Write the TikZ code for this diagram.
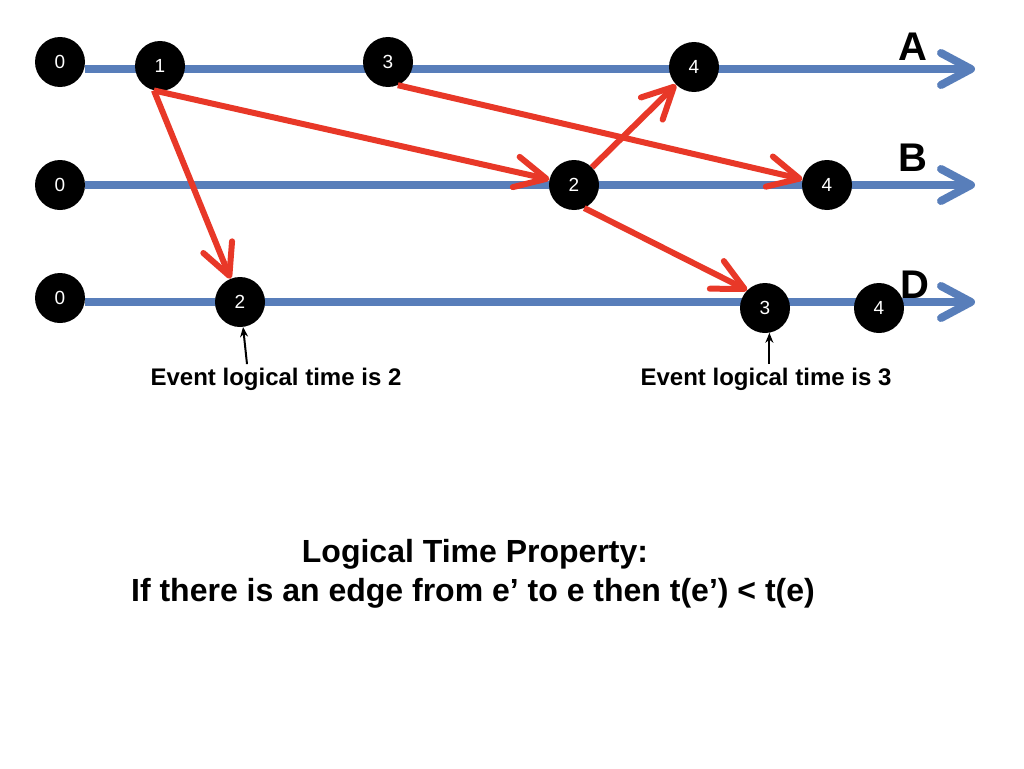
\documentclass[tikz,border=0pt]{standalone}
\usepackage{fontspec}
\setmainfont{Liberation Sans}
\usetikzlibrary{arrows.meta,backgrounds}

\definecolor{lineblue}{RGB}{88,126,186}
\definecolor{msgred}{RGB}{232,56,40}

\tikzset{
    event/.style={circle, fill=black, text=white, minimum size=50pt, inner sep=0pt,
        font=\fontsize{19}{19}\selectfont},
    proc/.style={font=\fontsize{40}{40}\selectfont\bfseries},
    timeline/.style={lineblue, line width=8pt, -{Straight Barb[length=30pt, width=32pt, round]}},
    msg/.style={msgred, line width=6pt, -{Straight Barb[length=31pt, width=31pt, round]}},
    note/.style={black, line width=2pt, -{Stealth[length=10pt, width=8pt]}},
    remark/.style={anchor=base, font=\fontsize{24}{24}\selectfont\bfseries},
    prop/.style={anchor=base, font=\fontsize{32}{32}\selectfont\bfseries}
}

\begin{document}
\begin{tikzpicture}[x=1pt, y=-1pt]
        \useasboundingbox (0,0) rectangle (1024,768);

        % Coordinates
        \coordinate (endA) at (975,69);
        \coordinate (endB) at (975,185);
        \coordinate (endD) at (975,302);

        % Events
        \node[event] (a0) at (60,62) {0};
        \node[event] (a1) at (160,66) {1};
        \node[event] (a3) at (388,62) {3};
        \node[event] (a4) at (694,67) {4};
        \node[event] (b0) at (60,185) {0};
        \node[event] (b2) at (574,185) {2};
        \node[event] (b4) at (827,185) {4};
        \node[event] (d0) at (60,298) {0};
        \node[event] (d2) at (240,302) {2};
        \node[event] (d3) at (765,308) {3};
        \node[event] (d4) at (879,308) {4};

        % Labels
        \node[proc] (labA) at (913,47) {A};
        \node[proc] (labB) at (913,158) {B};
        \node[proc] (labD) at (915,285) {D};

        % Time lines
        \begin{scope}[on background layer]
            \draw[timeline] (a0.east |- endA) -- (endA);
            \draw[timeline] (b0.east |- endB) -- (endB);
            \draw[timeline] (d0.east |- endD) -- (endD);
        \end{scope}

        % Messages
        \draw[msg] (a1.256) -- (d2);
        \draw[msg] (a1.256) -- (b2);
        \draw[msg] (a3.293) -- (b4);
        \draw[msg] (b2) -- (a4);
        \draw[msg] (b2.294) -- (d3.135);

        % Remarks
        \node[remark] (t2) at (276,385) {Event logical time is 2};
        \node[remark] (t3) at (766,385) {Event logical time is 3};
        \draw[note] ([xshift=-29pt]t2.north) -- (d2.277);
        \draw[note] (t3.north -| d3.280) -- (d3.280);

        % Property
        \node[prop] (title) at (475,562) {Logical Time Property:};
        \node[prop] (rule) at (473,601) {If there is an edge from e’ to e then t(e’) < t(e)};
    \end{tikzpicture}
\end{document}
